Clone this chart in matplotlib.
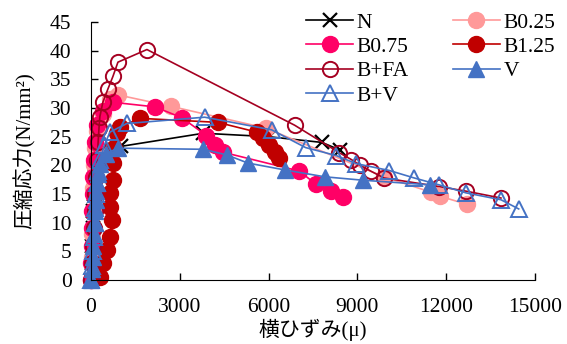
import matplotlib.pyplot as plt

## data (strain in micro, stress in N/mm2) ##
n_x = [0, 20, 40, 60, 80, 100, 150, 250, 1000, 3800, 6000, 7800, 8400]
n_y = [0, 3, 6, 9, 12, 15, 18, 21, 23.3, 25.6, 25, 24, 22.7]

b025_x = [0, 20, 40, 60, 80, 100, 130, 200, 400, 650, 900, 2700, 5900, 9900, 11500, 11800, 12700]
b025_y = [0, 4, 8, 12, 16, 20, 23, 26, 29, 31.5, 32.3, 30.3, 26.5, 18, 15.3, 14.6, 13.2]

b075_x = [0, 10, 20, 30, 40, 60, 80, 100, 130, 200, 400, 740, 2160, 3070, 3900, 4180, 4450, 7040, 7600, 8100, 8500]
b075_y = [0, 3, 6, 9, 12, 15, 18, 21, 24, 27, 29.5, 31, 30.2, 28.3, 25.2, 23.6, 22.3, 19, 16.7, 15.5, 14.5]

b125_x = [300, 400, 540, 640, 700, 650, 650, 740, 740, 780, 870, 980, 1650, 4280, 5600, 5800, 6000, 6200, 6350]
b125_y = [0.5, 3, 5.2, 7.5, 10.5, 12.7, 15.2, 17.4, 20.4, 23, 25.6, 26.7, 28.2, 27.5, 25.8, 24.8, 23.5, 22.3, 21.3]

bfa_x = [0, 30, 60, 90, 120, 150, 180, 210, 240, 270, 300, 400, 570, 740, 910, 1890, 6880, 8390, 8800, 9100, 9450, 9900, 11760, 12670, 13850]
bfa_y = [0, 3, 6, 9, 12, 15, 18, 21, 24, 26.5, 28.5, 31, 33.3, 35.5, 38, 40.2, 27, 22.2, 21, 20, 19, 17.8, 16.3, 15.5, 14.3]

v_x = [0, 30, 60, 80, 100, 120, 140, 160, 180, 200, 250, 300, 500, 900, 3800, 4600, 5300, 6550, 7900, 9200, 11450]
v_y = [0, 2, 4, 6, 8, 10, 12, 14, 15.5, 17, 18.5, 20.3, 22, 23, 22.8, 21.8, 20.4, 19.2, 18, 17.4, 16.6]

bv_x = [0, 30, 60, 90, 120, 150, 180, 210, 250, 300, 450, 640, 1210, 3840, 6100, 7250, 8290, 8960, 10080, 10920, 11760, 12670, 13850, 14450]
bv_y = [0, 2.5, 5, 7.5, 10, 12.5, 15, 17, 19, 21, 23.5, 25.8, 27.3, 28.4, 26.2, 23.1, 21.7, 20.3, 19.1, 17.8, 16.6, 15.2, 14, 12.4]

serif = ['Liberation Serif', 'Noto Sans CJK JP']

fig = plt.figure(figsize=(5.67, 3.44), dpi=100)
ax = fig.add_axes([0.1605, 0.186, 0.783, 0.750])

lw = 1.2
ln, = ax.plot(n_x, n_y, color='black', lw=lw, marker='x', ms=10, mew=1.6, label='N', clip_on=False)
l025, = ax.plot(b025_x, b025_y, color='#FF9999', lw=lw, marker='o', ms=11.5, label='B0.25', clip_on=False)
l075, = ax.plot(b075_x, b075_y, color='#FF0066', lw=lw, marker='o', ms=11.5, label='B0.75', clip_on=False)
l125, = ax.plot(b125_x, b125_y, color='#C00000', lw=lw, marker='o', ms=11.5, label='B1.25', clip_on=False)
lfa, = ax.plot(bfa_x, bfa_y, color='#A50021', lw=lw, marker='o', ms=11, mfc='none', mew=1.4,
               label='B+FA', clip_on=False)
lv, = ax.plot(v_x, v_y, color='#4472C4', lw=lw, marker='^', ms=11.5, label='V', clip_on=False)
lbv, = ax.plot(bv_x, bv_y, color='#4472C4', lw=lw, marker='^', ms=11.5, mfc='none', mew=1.4,
               label='B+V', clip_on=False)

ax.set_xlim(0, 15000)
ax.set_ylim(0, 45)
ax.set_xticks(range(0, 15001, 3000))
ax.set_yticks(range(0, 46, 5))
ax.spines['top'].set_visible(False)
ax.spines['right'].set_visible(False)
ax.tick_params(direction='in', length=5, width=1, labelsize=15.5)
ax.tick_params(axis='y', pad=14)
ax.tick_params(axis='x', pad=13)
for lab in ax.get_xticklabels() + ax.get_yticklabels():
    lab.set_family(serif)

ax.set_xlabel('横ひずみ(μ)', family=serif, fontsize=15, labelpad=1)
ax.set_ylabel('圧縮応力(N/mm²)', family=serif, fontsize=15, labelpad=10)

hs = [ln, l075, lfa, lbv, l025, l125, lv]
leg = ax.legend(hs, [h.get_label() for h in hs], ncol=2, loc='upper right',
                bbox_to_anchor=(1.065, 1.07), frameon=False, prop={'family': serif, 'size': 15.5},
                labelspacing=0.2, columnspacing=2.05, handlelength=2.2, handletextpad=0.15,
                borderaxespad=0)

fig.savefig('out.png', dpi=100)
